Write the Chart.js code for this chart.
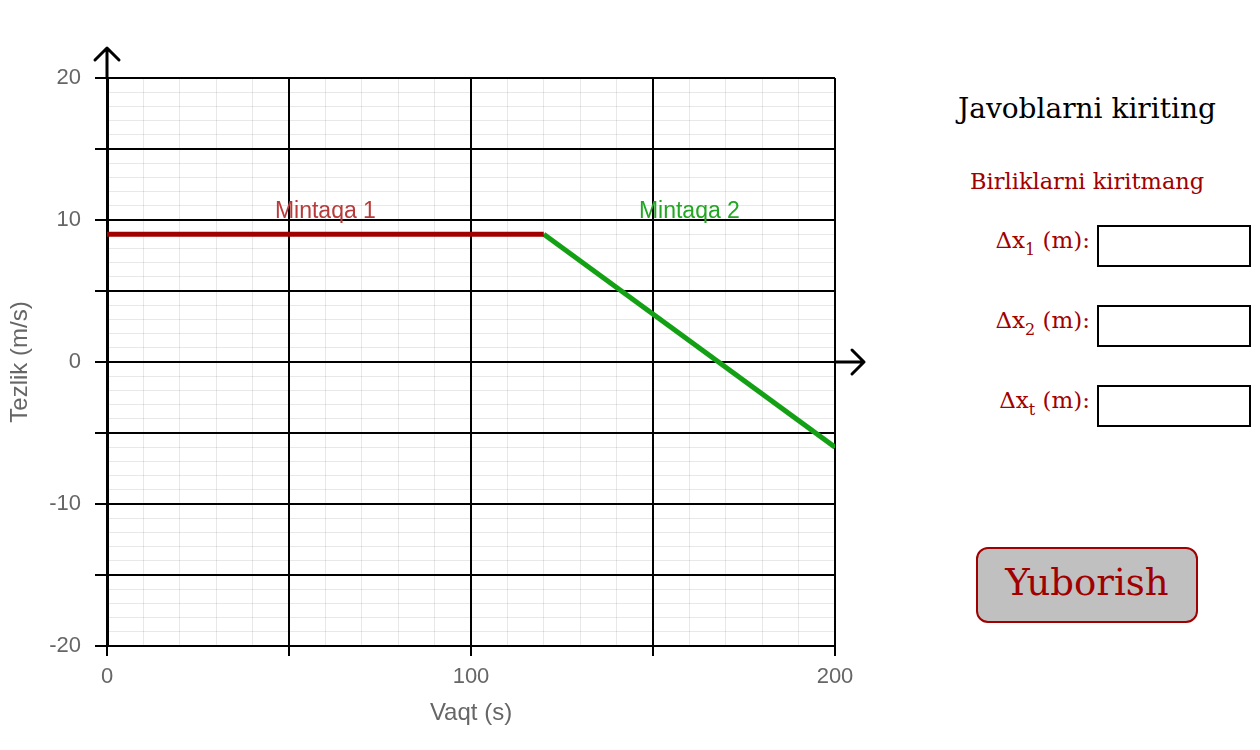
<!DOCTYPE html>
<html>
<head>
<meta charset="utf-8">
<script src="https://cdn.jsdelivr.net/npm/chart.js@4.4.0/dist/chart.umd.min.js"></script>
<style>
  body { margin: 0; background: #fff; width: 1260px; height: 750px; position: relative; overflow: hidden; }
  #wrap { position: absolute; left: 0; top: 0; width: 900px; height: 750px; }
  .serif { font-family: "DejaVu Serif", serif; position: absolute; white-space: nowrap; }
  #title { left: 958px; top: 92px; font-size: 28px; color: #000; }
  #note { left: 970px; top: 168px; font-size: 22.5px; color: #a00000; }
  .lbl { right: 170px; font-size: 23px; color: #a00000; text-align: right; }
  .lbl sub { font-size: 16px; vertical-align: -7px; }
  .box { position: absolute; left: 1097px; width: 150px; height: 38px; border: 2px solid #000; background: #fff; }
  #send { position: absolute; left: 976px; top: 547px; width: 218px; height: 72px; background: #c0c0c0;
          border: 2px solid #a00000; border-radius: 12px; font-family: "DejaVu Serif", serif;
          font-size: 37px; color: #a00000; text-align: center; line-height: 68px; }
</style>
</head>
<body>
<div id="wrap"><canvas id="chart" width="900" height="750"></canvas></div>

<div id="title" class="serif">Javoblarni kiriting</div>
<div id="note" class="serif">Birliklarni kiritmang</div>
<div class="serif lbl" style="top:227px">&Delta;x<sub>1</sub> (m):</div>
<div class="box" style="top:225px"></div>
<div class="serif lbl" style="top:307px">&Delta;x<sub>2</sub> (m):</div>
<div class="box" style="top:305px"></div>
<div class="serif lbl" style="top:387px">&Delta;x<sub>t</sub> (m):</div>
<div class="box" style="top:385px"></div>
<div id="send">Yuborish</div>

<script>
// Velocity-time graph data
const region1Time = [0, 120];
const region1Speed = [9, 9];
const region2Time = [120, 200];
const region2Speed = [9, -6];

const regionNames = ['Mintaqa 1', 'Mintaqa 2'];
const regionNameX = [60, 160];
const regionNameY = [10.6, 10.6];
const regionNameColors = ['#b83a3a', '#22a722'];

const xLabels = [0, 100, 200];
const yLabels = [20, 10, 0, -10, -20];

const toPoints = (xs, ys) => xs.map((x, i) => ({ x: x, y: ys[i] }));

// Arrow heads on the axes plus region captions
const axisDecor = {
  id: 'axisDecor',
  afterDraw(chart) {
    const ctx = chart.ctx;
    const xs = chart.scales.x;
    const ys = chart.scales.y;
    const x0 = xs.getPixelForValue(0);
    const yTop = ys.getPixelForValue(20);
    const y0 = ys.getPixelForValue(0);
    const xEnd = xs.getPixelForValue(200);

    ctx.save();
    ctx.strokeStyle = '#000';
    ctx.lineWidth = 3;
    ctx.lineCap = 'round';
    ctx.lineJoin = 'round';

    // y axis arrow
    ctx.beginPath();
    ctx.moveTo(x0, yTop);
    ctx.lineTo(x0, yTop - 30);
    ctx.moveTo(x0 - 12, yTop - 18);
    ctx.lineTo(x0, yTop - 30);
    ctx.lineTo(x0 + 12, yTop - 18);
    ctx.stroke();

    // x axis arrow
    ctx.beginPath();
    ctx.moveTo(xEnd, y0);
    ctx.lineTo(xEnd + 29, y0);
    ctx.moveTo(xEnd + 17, y0 - 12);
    ctx.lineTo(xEnd + 29, y0);
    ctx.lineTo(xEnd + 17, y0 + 12);
    ctx.stroke();

    // region captions
    ctx.font = '23px "Liberation Sans", Arial, sans-serif';
    ctx.textAlign = 'center';
    ctx.textBaseline = 'middle';
    regionNames.forEach((name, i) => {
      ctx.fillStyle = regionNameColors[i];
      ctx.fillText(name, xs.getPixelForValue(regionNameX[i]), ys.getPixelForValue(regionNameY[i]));
    });
    ctx.restore();
  }
};

const tickFont = { family: '"Liberation Sans", Arial, sans-serif', size: 22 };
const titleFont = { family: '"Liberation Sans", Arial, sans-serif', size: 24 };
const minorGrid = 'rgba(0,0,0,0.09)';

new Chart(document.getElementById('chart'), {
  type: 'scatter',
  data: {
    datasets: [
      {
        label: regionNames[0],
        data: toPoints(region1Time, region1Speed),
        showLine: true,
        borderColor: '#a00000',
        borderWidth: 5,
        pointRadius: 0
      },
      {
        label: regionNames[1],
        data: toPoints(region2Time, region2Speed),
        showLine: true,
        borderColor: '#14a014',
        borderWidth: 5,
        pointRadius: 0
      }
    ]
  },
  options: {
    responsive: false,
    animation: false,
    layout: { padding: { top: 78, right: 65 } },
    plugins: { legend: { display: false }, tooltip: { enabled: false } },
    scales: {
      x: {
        type: 'linear',
        min: 0,
        max: 200,
        afterBuildTicks: s => { s.ticks = []; for (let v = 0; v <= 200; v += 10) s.ticks.push({ value: v }); },
        afterFit: s => { s.height = 104; },
        ticks: {
          autoSkip: false,
          maxRotation: 0,
          padding: 8,
          color: '#666',
          font: tickFont,
          callback: v => (xLabels.includes(v) ? String(v) : '')
        },
        grid: {
          color: c => (c.tick.value % 50 === 0 ? '#000' : minorGrid),
          lineWidth: c => (c.tick.value % 50 === 0 ? 2 : 1),
          tickColor: c => (c.tick.value % 50 === 0 ? '#000' : 'rgba(0,0,0,0)'),
          tickLength: 10,
          tickWidth: 2
        },
        border: { color: '#000', width: 2 },
        title: {
          display: true,
          text: 'Vaqt (s)',
          color: '#666',
          font: titleFont,
          padding: { top: 4, bottom: 22 }
        }
      },
      y: {
        type: 'linear',
        min: -20,
        max: 20,
        afterBuildTicks: s => { s.ticks = []; for (let v = -20; v <= 20; v += 1) s.ticks.push({ value: v }); },
        afterFit: s => { s.width = 107; },
        ticks: {
          autoSkip: false,
          padding: 14,
          color: '#666',
          font: tickFont,
          callback: v => (yLabels.includes(v) ? String(v) : '')
        },
        grid: {
          color: c => (c.tick.value % 5 === 0 ? '#000' : minorGrid),
          lineWidth: c => (c.tick.value % 5 === 0 ? 2 : 1),
          tickColor: c => (c.tick.value % 5 === 0 ? '#000' : 'rgba(0,0,0,0)'),
          tickLength: 12,
          tickWidth: 2
        },
        border: { color: '#000', width: 3 },
        title: {
          display: true,
          text: 'Tezlik (m/s)',
          color: '#666',
          font: titleFont,
          padding: { top: 6, bottom: 4 }
        }
      }
    }
  },
  plugins: [axisDecor]
});
</script>
</body>
</html>
